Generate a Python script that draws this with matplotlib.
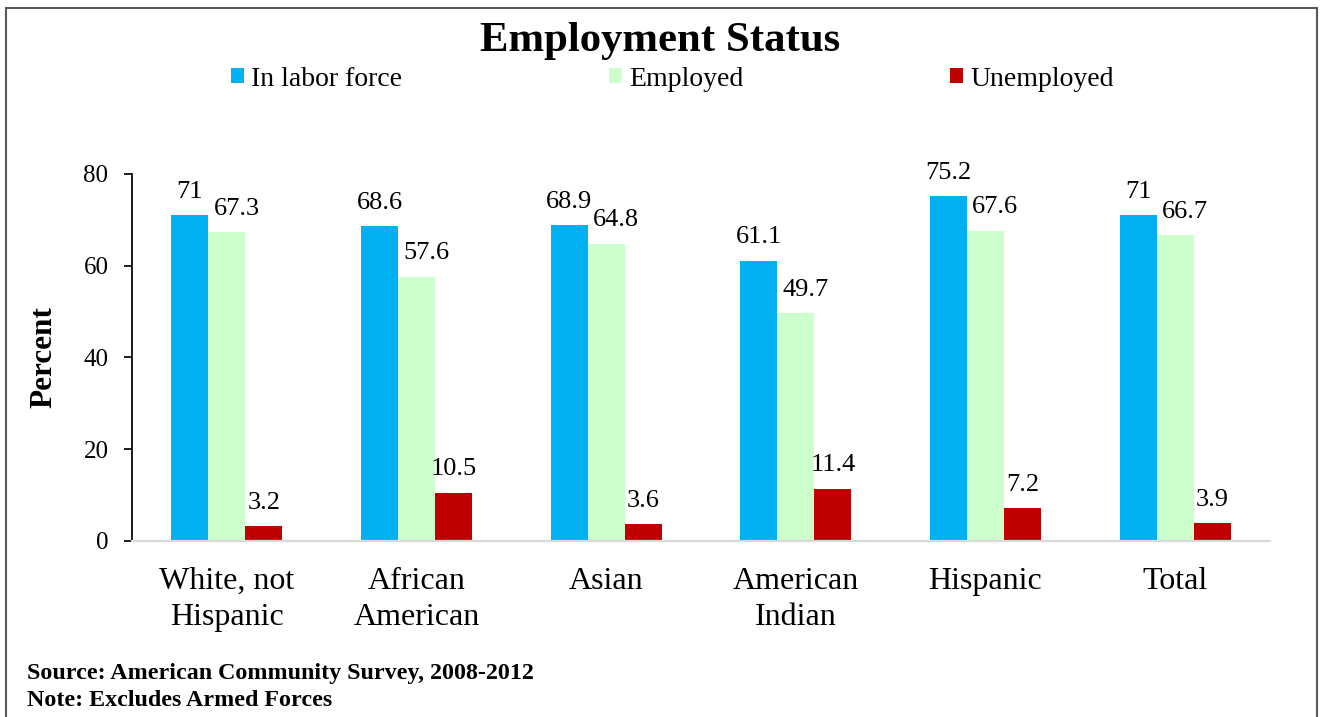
import numpy as np
import matplotlib
matplotlib.use("Agg")
import matplotlib.pyplot as plt
from matplotlib.patches import Patch, Rectangle

plt.rcParams['font.family'] = ['Liberation Serif', 'DejaVu Serif']

# employment status by group, percent
groups = ["White, not\nHispanic", "African\nAmerican", "Asian",
          "American\nIndian", "Hispanic", "Total"]
in_labor_force = [71, 68.6, 68.9, 61.1, 75.2, 71]
employed = [67.3, 57.6, 64.8, 49.7, 67.6, 66.7]
unemployed = [3.2, 10.5, 3.6, 11.4, 7.2, 3.9]
series_names = ["In labor force", "Employed", "Unemployed"]
colors = ["#00B0F0", "#CCFFCC", "#C00000"]
yticks = [0, 20, 40, 60, 80]

fig = plt.figure(figsize=(13.2, 7.17), dpi=100)
ax = fig.add_axes([0.1, 0.2455, 0.8621, 0.5119])

x = np.arange(len(groups))
w = 0.195
series = [in_labor_force, employed, unemployed]
label_dx = [0, 7, 0]
for k, vals in enumerate(series):
    bars = ax.bar(x + (k - 1) * w, vals, w, color=colors[k], label=series_names[k])
    for b, v in zip(bars, vals):
        ax.annotate(f"{v:g}", (b.get_x() + b.get_width() / 2, v),
                    xytext=(label_dx[k], 12.5), textcoords="offset points",
                    ha="center", va="baseline", fontsize=19)

ax.set_xlim(-0.5, len(groups) - 0.5)
ax.set_ylim(0, 80)
ax.set_yticks(yticks)
ax.set_xticks(x)
ax.set_xticklabels(groups, fontsize=23, linespacing=1.33)
ax.tick_params(axis="y", labelsize=18, length=6, width=1.25, pad=11, direction="out")
ax.tick_params(axis="x", length=0, pad=18.5)

for s in ["top", "right"]:
    ax.spines[s].set_visible(False)
ax.spines["left"].set_linewidth(1.25)
ax.spines["bottom"].set_color("#d9d9d9")
ax.spines["bottom"].set_linewidth(1.6)

ax.set_ylabel("Percent", fontsize=22.5, fontweight="bold")
ax.yaxis.set_label_coords(-0.065, 0.5)

fig.text(0.5, 1 - 41 / 717, "Employment Status", ha="center", va="center",
         fontsize=30.8, fontweight="bold")

handles = [Patch(facecolor=c) for c in colors]
fig.legend(handles, series_names, loc="center", ncol=3,
           bbox_to_anchor=(672.5 / 1320, 1 - 79 / 717), frameon=False,
           fontsize=20, handlelength=0.47, handleheight=0.47,
           handletextpad=0.25, columnspacing=7.45, borderpad=0, borderaxespad=0)

fig.text(27 / 1320, 1 - 674 / 717, "Source: American Community Survey, 2008-2012",
         ha="left", va="center", fontsize=17.3, fontweight="bold")
fig.text(27 / 1320, 1 - 701 / 717, "Note: Excludes Armed Forces",
         ha="left", va="center", fontsize=17.3, fontweight="bold")

# outer frame
fig.add_artist(Rectangle((6 / 1320, -0.05), 1311 / 1320, 1.05 - 8 / 717,
                         transform=fig.transFigure, fill=False,
                         edgecolor="#595959", linewidth=1.5))

fig.savefig("out.png", dpi=100)
